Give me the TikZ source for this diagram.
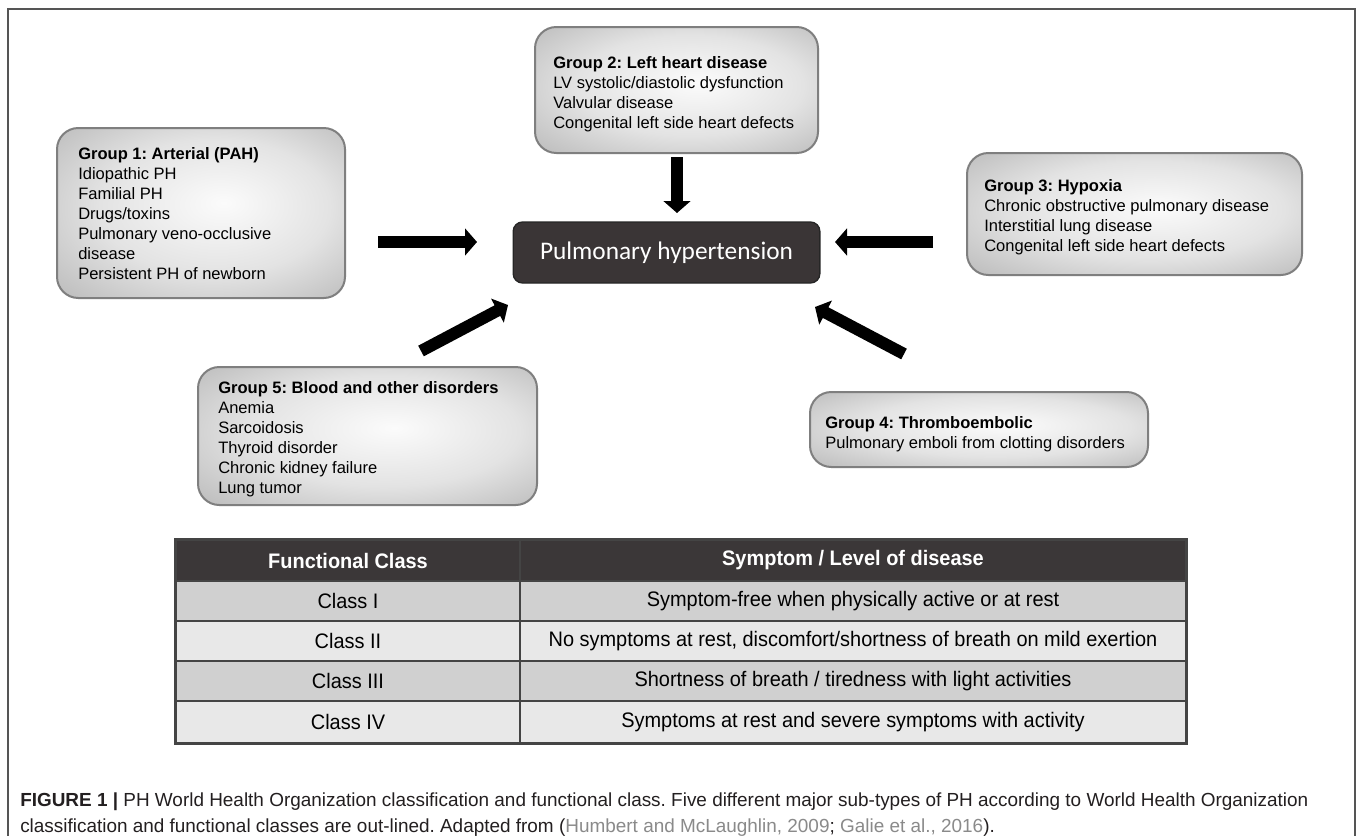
\documentclass[tikz,border=0pt]{standalone}
\usepackage{fontspec}
\setmainfont{Liberation Sans}
\newfontfamily\calib{Carlito}
\newfontfamily\narrowf[FakeStretch=0.95]{Liberation Sans}
\usetikzlibrary{arrows.meta,fit,calc}
\definecolor{boxedge}{HTML}{7F7F7F}
\definecolor{phfill}{HTML}{3A3536}
\definecolor{hdrfill}{HTML}{3B3738}
\definecolor{rowdark}{HTML}{D0D0D0}
\definecolor{rowlight}{HTML}{E8E8E8}
\definecolor{tline}{HTML}{444444}
\definecolor{citegray}{HTML}{8A8A8A}
\definecolor{captxt}{HTML}{231F20}
\definecolor{framecol}{HTML}{555555}
\pgfdeclareradialshading{grpshade}{\pgfpoint{4bp}{3bp}}{color(0bp)=(gray!3); color(20bp)=(gray!22); color(35bp)=(gray!50); color(50bp)=(gray!50)}
\frenchspacing
\begin{document}
\begin{tikzpicture}[x=0.75pt,y=-0.75pt,
  grpbox/.style={draw=boxedge, line width=1.5pt, rounded corners=16pt, inner sep=0pt,
     shading=grpshade},
  grptext/.style={anchor=north west, inner sep=0pt, align=left,
     font=\fontsize{12.4}{15}\selectfont},
  phbox/.style={draw=black!85, fill=phfill, rounded corners=7pt, line width=1pt,
     minimum width=230pt, minimum height=45.75pt, text=white,
     font=\calib\fontsize{19}{22}\selectfont},
  bigarrow/.style={line width=9pt, -{Triangle[length=9pt, width=20pt]}, black},
  cell/.style={draw=tline, line width=1.1pt, inner sep=0pt,
     font=\narrowf\fontsize{15.75}{18}\selectfont},
  hdrcell/.style={cell, fill=hdrfill, text=white, font=\narrowf\bfseries\fontsize{15.75}{18}\selectfont},
  captext/.style={anchor=base west, inner sep=0pt, text=captxt,
     font=\fontsize{14.2}{17}\selectfont}
]
\useasboundingbox (0,0) rectangle (1358,835);
\fill[white] (0,0) rectangle (1358,835);
% frame
\draw[framecol, line width=1.5pt] (8,840) -- (8,9) -- (1355,9) -- (1355,840);

% group boxes
\node[grpbox, fit={(57,128) (345,298)}] (g1) {};
\node[grptext] (t1) at (78,147) {\textbf{Group 1: Arterial (PAH)}\\Idiopathic PH\\Familial PH\\Drugs/toxins\\Pulmonary veno-occlusive\\disease\\Persistent PH of newborn};

\node[grpbox, fit={(535,27) (818,153)}] (g2) {};
\node[grptext] (t2) at (553,56) {\textbf{Group 2: Left heart disease}\\LV systolic/diastolic dysfunction\\Valvular disease\\Congenital left side heart defects};

\node[grpbox, fit={(967,153) (1302,275)}] (g3) {};
\node[grptext] (t3) at (984,179) {\textbf{Group 3: Hypoxia}\\Chronic obstructive pulmonary disease\\Interstitial lung disease\\Congenital left side heart defects};

\node[grpbox, fit={(810,392) (1148,467)}] (g4) {};
\node[grptext] (t4) at (825,416) {\textbf{Group 4: Thromboembolic}\\Pulmonary emboli from clotting disorders};

\node[grpbox, fit={(198,367) (537,505)}] (g5) {};
\node[grptext] (t5) at (218,381) {\textbf{Group 5: Blood and other disorders}\\Anemia\\Sarcoidosis\\Thyroid disorder\\Chronic kidney failure\\Lung tumor};

% centre
\node[phbox] (ph) at (666.5,252.5) {Pulmonary hypertension};

% arrow end points
\coordinate (a1s) at (378,242); \coordinate (a1e) at (477,242);
\coordinate (a2s) at (677,157); \coordinate (a2e) at (677,213);
\coordinate (a3s) at (933,242); \coordinate (a3e) at (835,242);
\coordinate (a4s) at (421,351); \coordinate (a4e) at (508,305);
\coordinate (a5s) at (904,354); \coordinate (a5e) at (815,307);
\draw[bigarrow] (a1s) -- (a1e);
\draw[bigarrow] (a2s) -- (a2e);
\draw[bigarrow] (a3s) -- (a3e);
\draw[bigarrow] (a4s) -- (a4e);
\draw[bigarrow] (a5s) -- (a5e);

% table
\node[hdrcell, minimum width=258pt, minimum height=30.75pt] (h1) at (348,560.5) {Functional Class};
\node[hdrcell, minimum width=499.5pt, minimum height=30.75pt] (h2) at (853,560.5) {Symptom / Level of disease};
\node[cell, fill=rowdark, minimum width=258pt, minimum height=30pt] (c11) at (348,601) {Class I};
\node[cell, fill=rowdark, minimum width=499.5pt, minimum height=30pt] (c12) at (853,601) {Symptom-free when physically active or at rest};
\node[cell, fill=rowlight, minimum width=258pt, minimum height=30pt] (c21) at (348,641) {Class II};
\node[cell, fill=rowlight, minimum width=499.5pt, minimum height=30pt] (c22) at (853,641) {No symptoms at rest, discomfort/shortness of breath on mild exertion};
\node[cell, fill=rowdark, minimum width=258pt, minimum height=30pt] (c31) at (348,681) {Class III};
\node[cell, fill=rowdark, minimum width=499.5pt, minimum height=30pt] (c32) at (853,681) {Shortness of breath / tiredness with light activities};
\node[cell, fill=rowlight, minimum width=258pt, minimum height=31.5pt] (c41) at (348,722) {Class IV};
\node[cell, fill=rowlight, minimum width=499.5pt, minimum height=31.5pt] (c42) at (853,722) {Symptoms at rest and severe symptoms with activity};
\draw[tline, line width=1.5pt] (h1.north west) rectangle (c42.south east);

% caption
\node[captext] (cap1) at (20,806) {\textbf{FIGURE 1 |} PH World Health Organization classification and functional class. Five different major sub-types of PH according to World Health Organization};
\node[captext] (cap2) at (20,832) {classification and functional classes are out-lined. Adapted from ({\color{citegray}Humbert and McLaughlin, 2009}; {\color{citegray}Galie et al., 2016}).};
\end{tikzpicture}
\end{document}
